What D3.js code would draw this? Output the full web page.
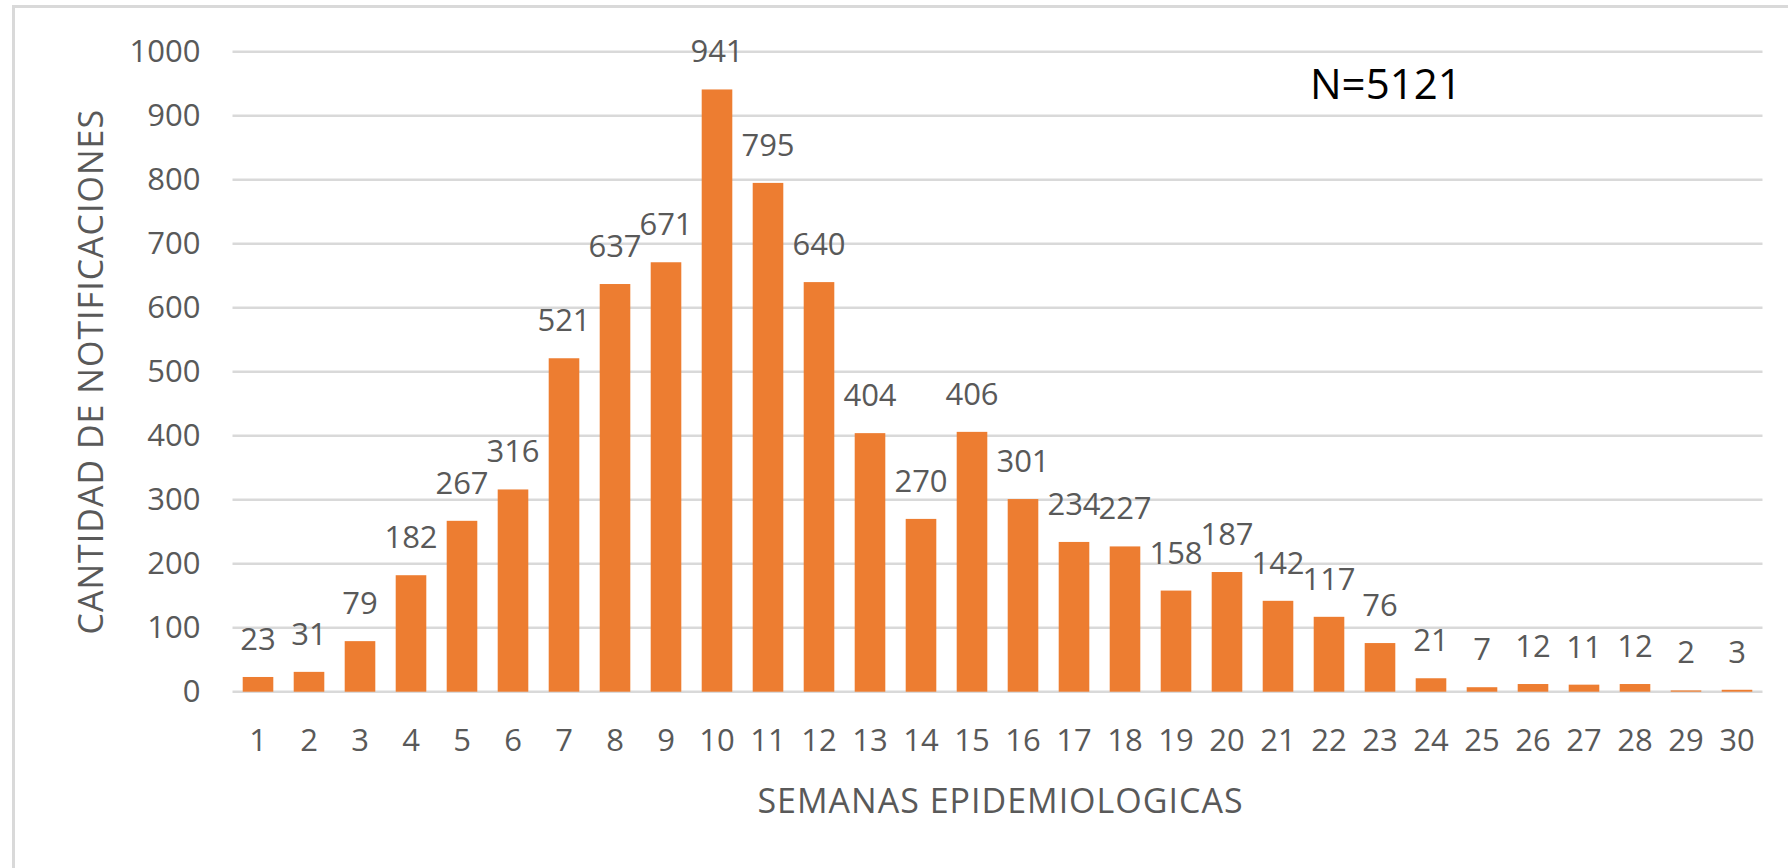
<!DOCTYPE html>
<html>
<head>
<meta charset="utf-8">
<script src="https://cdn.jsdelivr.net/npm/d3@7"></script>
<style>
  html, body { margin: 0; padding: 0; background: #fff; }
</style>
</head>
<body>
<div id="chart"></div>
<script>
const weeks = d3.range(1, 31).map(String);
const notifications = [23, 31, 79, 182, 267, 316, 521, 637, 671, 941, 795, 640, 404, 270, 406,
    301, 234, 227, 158, 187, 142, 117, 76, 21, 7, 12, 11, 12, 2, 3];
const yTicks = [0, 100, 200, 300, 400, 500, 600, 700, 800, 900, 1000];
const xTitle = "SEMANAS EPIDEMIOLOGICAS";
const yTitle = "CANTIDAD DE NOTIFICACIONES";
const note = "N=5121";

function barChart(width = 1788, height = 868) {
    const margin = {top: 51.7, right: 1788 - 1762.5, bottom: 868 - 691.7, left: 232.5};
    const font = "Open Sans, sans-serif";
    const grey = "#595959";

    const x = d3.scaleBand()
        .domain(weeks)
        .range([margin.left, width - margin.right])
        .paddingInner(0.4)
        .paddingOuter(0.2);

    const y = d3.scaleLinear()
        .domain([0, 1000])
        .range([height - margin.bottom, margin.top]);

    const svg = d3.create("svg")
        .attr("width", width)
        .attr("height", height)
        .attr("viewBox", [0, 0, width, height])
        .style("font-family", font);

    // chart border (runs off the right and bottom edge)
    svg.append("rect")
        .attr("x", 13.5)
        .attr("y", 6.5)
        .attr("width", width + 20)
        .attr("height", height + 20)
        .attr("fill", "white")
        .attr("stroke", "#d9d9d9")
        .attr("stroke-width", 3);

    // gridlines
    svg.append("g")
        .selectAll("line")
        .data(yTicks)
        .join("line")
        .attr("x1", margin.left)
        .attr("x2", width - margin.right)
        .attr("y1", d => y(d))
        .attr("y2", d => y(d))
        .attr("stroke", "#d9d9d9")
        .attr("stroke-width", 2.5);

    // y axis
    const yAxis = svg.append("g")
        .attr("transform", `translate(${margin.left - 32},0)`)
        .call(d3.axisLeft(y).tickValues(yTicks).tickFormat(d3.format("d")).tickSize(0).tickPadding(0));
    yAxis.select(".domain").remove();
    yAxis.selectAll("text")
        .attr("fill", grey)
        .style("font-size", "31px")
        .style("font-family", font);

    // x axis
    const xAxis = svg.append("g")
        .attr("transform", `translate(0,${y(0)})`)
        .call(d3.axisBottom(x).tickSize(0).tickPadding(37));
    xAxis.select(".domain").remove();
    xAxis.selectAll("text")
        .attr("fill", grey)
        .style("font-size", "31px")
        .style("font-family", font);

    // bars
    svg.append("g")
        .attr("fill", "#ED7D31")
        .selectAll("rect")
        .data(notifications)
        .join("rect")
        .attr("x", (d, i) => x(weeks[i]))
        .attr("y", d => y(d))
        .attr("width", x.bandwidth())
        .attr("height", d => y(0) - y(d));

    // value labels
    svg.append("g")
        .attr("text-anchor", "middle")
        .attr("fill", grey)
        .style("font-size", "31px")
        .selectAll("text")
        .data(notifications)
        .join("text")
        .attr("x", (d, i) => x(weeks[i]) + x.bandwidth() / 2)
        .attr("y", d => y(d) - 27)
        .text(d => d);

    // axis titles
    svg.append("text")
        .attr("x", (x.range()[0] + x.range()[1]) / 2 + 3)
        .attr("y", 813)
        .attr("text-anchor", "middle")
        .attr("fill", grey)
        .style("font-size", "34px")
        .style("letter-spacing", "1px")
        .text(xTitle);

    svg.append("text")
        .attr("transform", `translate(103,${(y(0) + y(1000)) / 2}) rotate(-90)`)
        .attr("text-anchor", "middle")
        .attr("fill", grey)
        .style("font-size", "34px")
        .style("letter-spacing", "1px")
        .text(yTitle);

    svg.append("text")
        .attr("x", 1310)
        .attr("y", 99)
        .attr("fill", "black")
        .style("font-size", "42px")
        .text(note);

    return svg.node();
}

document.getElementById("chart").appendChild(barChart());
</script>
</body>
</html>
